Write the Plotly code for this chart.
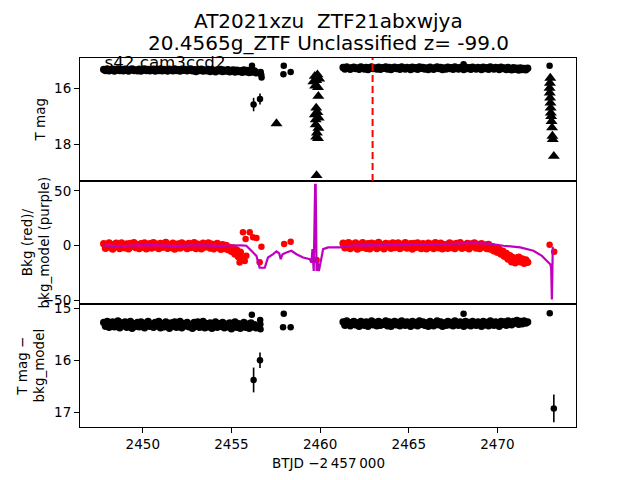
import plotly.graph_objects as go
from plotly.subplots import make_subplots

# ---------------- data ----------------
tA = [2447.8, 2447.9, 2448.0, 2448.1, 2448.2, 2448.3, 2448.4, 2448.5, 2448.6, 2448.7,
      2448.8, 2448.9, 2449.0, 2449.1, 2449.2, 2449.3, 2449.4, 2449.5, 2449.6, 2449.7,
      2449.8, 2449.9, 2450.0, 2450.1, 2450.2, 2450.3, 2450.4, 2450.5, 2450.6, 2450.7,
      2450.8, 2450.9, 2451.0, 2451.1, 2451.2, 2451.3, 2451.4, 2451.5, 2451.6, 2451.7,
      2451.8, 2451.9, 2452.0, 2452.1, 2452.2, 2452.3, 2452.4, 2452.5, 2452.6, 2452.7,
      2452.8, 2452.9, 2453.0, 2453.1, 2453.2, 2453.3, 2453.4, 2453.5, 2453.6, 2453.7,
      2453.8, 2453.9, 2454.0, 2454.1, 2454.2, 2454.3, 2454.4, 2454.5, 2454.6, 2454.7,
      2454.8, 2454.9, 2455.0, 2455.1, 2455.2, 2455.3, 2455.4, 2455.5, 2455.6, 2455.7,
      2455.8, 2455.9, 2456.0, 2456.1, 2456.2, 2456.3, 2456.4]
tB = [2461.3, 2461.4, 2461.5, 2461.6, 2461.7, 2461.8, 2461.9, 2462.0, 2462.1, 2462.2,
      2462.3, 2462.4, 2462.5, 2462.6, 2462.7, 2462.8, 2462.9, 2463.0, 2463.1, 2463.2,
      2463.3, 2463.4, 2463.5, 2463.6, 2463.7, 2463.8, 2463.9, 2464.0, 2464.1, 2464.2,
      2464.3, 2464.4, 2464.5, 2464.6, 2464.7, 2464.8, 2464.9, 2465.0, 2465.1, 2465.2,
      2465.3, 2465.4, 2465.5, 2465.6, 2465.7, 2465.8, 2465.9, 2466.0, 2466.1, 2466.2,
      2466.3, 2466.4, 2466.5, 2466.6, 2466.7, 2466.8, 2466.9, 2467.0, 2467.1, 2467.2,
      2467.3, 2467.4, 2467.5, 2467.6, 2467.7, 2467.8, 2467.9, 2468.0, 2468.1, 2468.2,
      2468.3, 2468.4, 2468.5, 2468.6, 2468.7, 2468.8, 2468.9, 2469.0, 2469.1, 2469.2,
      2469.3, 2469.4, 2469.5, 2469.6, 2469.7, 2469.8, 2469.9, 2470.0, 2470.1, 2470.2,
      2470.3, 2470.4, 2470.5, 2470.6, 2470.7, 2470.8, 2470.9, 2471.0, 2471.1, 2471.2,
      2471.3, 2471.4, 2471.5, 2471.6, 2471.7]
tA2 = [2447.8, 2447.9, 2448.0, 2448.1, 2448.2, 2448.3, 2448.4, 2448.5, 2448.6, 2448.7,
       2448.8, 2448.9, 2449.0, 2449.1, 2449.2, 2449.3, 2449.4, 2449.5, 2449.6, 2449.7,
       2449.8, 2449.9, 2450.0, 2450.1, 2450.2, 2450.3, 2450.4, 2450.5, 2450.6, 2450.7,
       2450.8, 2450.9, 2451.0, 2451.1, 2451.2, 2451.3, 2451.4, 2451.5, 2451.6, 2451.7,
       2451.8, 2451.9, 2452.0, 2452.1, 2452.2, 2452.3, 2452.4, 2452.5, 2452.6, 2452.7,
       2452.8, 2452.9, 2453.0, 2453.1, 2453.2, 2453.3, 2453.4, 2453.5, 2453.6, 2453.7,
       2453.8, 2453.9, 2454.0, 2454.1, 2454.2, 2454.3, 2454.4, 2454.5, 2454.6, 2454.7,
       2454.8, 2454.9, 2455.0, 2455.1, 2455.2, 2455.3, 2455.4, 2455.5]

# panel 1: T mag
magA = [15.31, 15.35, 15.29, 15.36, 15.32, 15.30, 15.37, 15.33, 15.29, 15.35,
        15.32, 15.36, 15.30, 15.34, 15.37, 15.31, 15.29, 15.35, 15.33, 15.36,
        15.30, 15.37, 15.32, 15.29, 15.35, 15.31, 15.36, 15.33, 15.30, 15.37,
        15.32, 15.35, 15.29, 15.36, 15.31, 15.34, 15.37, 15.30, 15.33, 15.36,
        15.29, 15.35, 15.32, 15.37, 15.30, 15.34, 15.31, 15.36, 15.33, 15.29,
        15.36, 15.32, 15.38, 15.31, 15.35, 15.30, 15.37, 15.33, 15.36, 15.31,
        15.38, 15.32, 15.35, 15.39, 15.33, 15.36, 15.31, 15.38, 15.34, 15.37,
        15.32, 15.39, 15.35, 15.33, 15.40, 15.34, 15.38, 15.36, 15.41, 15.33,
        15.39, 15.35, 15.42, 15.34, 15.40, 15.37, 15.43]
magB = [15.24, 15.29, 15.22, 15.27, 15.30, 15.25, 15.23, 15.28, 15.26, 15.30,
        15.22, 15.27, 15.29, 15.24, 15.31, 15.25, 15.22, 15.28, 15.26, 15.29,
        15.23, 15.30, 15.25, 15.27, 15.22, 15.29, 15.24, 15.31, 15.26, 15.23,
        15.28, 15.25, 15.30, 15.22, 15.27, 15.29, 15.24, 15.26, 15.31, 15.23,
        15.28, 15.25, 15.30, 15.22, 15.27, 15.24, 15.29, 15.26, 15.31, 15.23,
        15.27, 15.30, 15.25, 15.22, 15.28, 15.24, 15.31, 15.26, 15.29, 15.23,
        15.28, 15.25, 15.30, 15.22, 15.27, 15.29, 15.24, 15.26, 15.31, 15.23,
        15.28, 15.25, 15.30, 15.23, 15.27, 15.29, 15.24, 15.26, 15.31, 15.23,
        15.28, 15.25, 15.30, 15.22, 15.27, 15.29, 15.24, 15.26, 15.31, 15.23,
        15.28, 15.26, 15.31, 15.24, 15.29, 15.32, 15.25, 15.30, 15.27, 15.33,
        15.26, 15.31, 15.28, 15.32, 15.27]
out1_t = [2456.16, 2456.25, 2456.61, 2456.65, 2456.68, 2456.70, 2457.95, 2457.93, 2458.34, 2468.09, 2472.94]
out1_m = [15.18, 16.57, 16.37, 15.40, 15.50, 15.60, 15.18, 15.48, 15.40, 15.12, 15.18]
out1_e = [0.03, 0.24, 0.20, 0.03, 0.03, 0.03, 0.03, 0.03, 0.03, 0.02, 0.03]
lim_t = [2457.54, 2459.70, 2459.85, 2459.62, 2459.78, 2459.95, 2459.72, 2459.88, 2459.90, 2459.78,
         2459.70, 2459.85, 2459.75, 2459.92, 2459.75, 2459.90, 2459.82, 2459.78, 2459.88, 2459.80,
         2472.98, 2472.96, 2472.94, 2472.95, 2472.97, 2472.99, 2473.00, 2473.01, 2473.03, 2473.05,
         2473.08, 2473.10, 2473.12, 2473.18]
lim_m = [17.25, 15.55, 15.50, 15.75, 15.70, 15.65, 15.90, 15.95, 16.27, 16.69,
         16.93, 16.85, 17.11, 17.05, 17.29, 17.41, 17.58, 17.73, 17.78, 19.11,
         15.62, 15.80, 15.98, 16.15, 16.33, 16.51, 16.69, 16.87, 16.99, 17.17,
         17.40, 17.70, 17.82, 18.42]
t_peak = 2462.96

# panel 2: background (red) and background model (purple)
bkgA = [1.8, -2.2, 0.6, 2.6, -1.4, -2.9, 1.2, 2.2, -0.8, -2.5,
        2.4, 0.3, -1.9, 1.5, -2.7, 2.0, -0.5, 2.8, -1.6, 0.9,
        -2.4, 1.9, -1.1, 2.5, -2.8, 0.4, 1.7, -2.0, 2.7, -0.9,
        1.3, -2.6, 2.1, -1.3, 0.7, 2.9, -2.3, 1.0, -1.7, 2.3,
        -2.9, 0.2, 1.6, -2.1, 2.6, -0.6, 1.1, -2.6, 2.0, -1.5,
        0.8, 2.7, -2.4, 1.4, -0.3, -2.8, 2.2, -1.2, 0.5, 2.4,
        -2.0, 1.3, -2.7, 0.7, 2.1, -1.6, -3.2, 1.0, -2.4, 0.3,
        -3.5, -1.5, -5.0, -2.0, -7.5, -4.0, -10.0, -6.0]
bkgB = [2.2, -1.8, 0.9, 2.7, -2.4, 1.4, -0.7, 2.5, -2.9, 1.1,
        -1.5, 2.8, 0.4, -2.2, 1.9, -2.7, 2.3, -0.9, 1.6, -2.5,
        2.9, -1.2, 0.6, -2.8, 2.1, -0.4, 1.5, -2.3, 2.6, -1.7,
        0.8, 2.4, -2.6, 1.2, -1.0, 2.7, -2.1, 0.3, 1.8, -2.9,
        2.0, -1.4, 2.6, -0.6, -2.4, 1.7, 0.9, -2.7, 2.3, -1.1,
        1.4, -2.5, 2.8, -0.2, -1.9, 2.2, -2.8, 1.0, 0.5, -2.3,
        2.5, -1.6, 1.3, -2.6, 2.0, -0.8, 2.7, -2.2, 0.7, -1.3,
        2.1, -2.8, 1.6, -0.5, 2.4, -2.0, 1.1, -2.6, 1.9, -1.0,
        0.6, -2.5, 1.2, -3.0, -1.0, -4.5, -2.5, -6.0, -3.5, -7.5,
        -5.0, -9.5, -7.0, -12.0, -9.0, -14.5, -11.0, -15.5, -12.5, -10.5,
        -14.5, -12.0, -16.0, -13.0, -15.0]
bkg_out_t = [2455.46, 2455.55, 2455.65, 2455.75, 2455.80, 2455.84, 2456.03, 2456.22, 2456.41,
             2456.59, 2456.69, 2457.97, 2458.34, 2459.80, 2472.94, 2473.20]
bkg_out_v = [-15.3, -10.5, 12.3, -13.8, 6.1, -9.2, 12.3, 7.7, 7.1,
             -15.0, -0.9, 1.5, 3.7, -13.0, 0.9, -5.5]
model_t = [2447.8, 2448.4, 2449.0, 2449.7, 2450.5, 2451.2, 2452.0, 2452.7, 2453.5, 2454.2,
           2455.0, 2455.55, 2455.84, 2456.12, 2456.41,
           2456.59, 2456.88, 2457.06, 2457.35, 2457.54, 2457.69, 2457.78, 2457.88, 2458.10, 2458.38,
           2458.67, 2459.04, 2459.42, 2459.51, 2459.57, 2459.64, 2459.72, 2459.75, 2459.80, 2459.85,
           2459.93, 2460.08, 2460.17, 2460.45, 2461.11, 2461.8, 2462.5, 2463.2, 2464.0, 2464.8,
           2465.5, 2466.2, 2467.0, 2467.7, 2468.45,
           2469.5, 2470.34, 2471.28, 2472.03, 2472.51, 2472.79, 2472.98, 2473.03, 2473.07, 2473.12,
           2473.18]
model_v = [0.3, -0.2, 0.0, 0.4, 0.5, 0.1, -0.2, 0.3, 0.4, -0.1,
           0.2, 0.3, 0.0, -4.6, -9.2,
           -20.0, -20.0, -10.7, -7.7, -5.2, -6.8, -12.3, -7.7, -6.1, -4.6,
           -7.7, -10.7, -12.3, -15.3, -3.1, -23.0, 55.5, 55.5, -23.0, -13.8,
           -23.0, -10.7, -3.1, -1.5, -1.5, 0.2, 0.5, 0.3, 0.8, 0.6,
           1.2, 1.0, 1.8, 2.0, 2.5,
           2.0, 0.0, -1.5, -4.6, -9.2, -13.8, -16.9, -20.0, -49.0, -2.0,
           -2.0]

# panel 3: T mag - bkg_model
mag3A = [15.27, 15.34, 15.25, 15.36, 15.29, 15.26, 15.35, 15.31, 15.24, 15.37,
         15.28, 15.33, 15.26, 15.36, 15.30, 15.25, 15.38, 15.29, 15.34, 15.27,
         15.35, 15.26, 15.32, 15.37, 15.28, 15.25, 15.34, 15.30, 15.36, 15.27,
         15.33, 15.25, 15.37, 15.29, 15.35, 15.26, 15.31, 15.38, 15.28, 15.34,
         15.26, 15.36, 15.30, 15.25, 15.37, 15.29, 15.33, 15.27, 15.35, 15.31,
         15.38, 15.27, 15.34, 15.26, 15.36, 15.30, 15.25, 15.37, 15.29, 15.35,
         15.28, 15.38, 15.31, 15.26, 15.36, 15.29, 15.34, 15.27, 15.37, 15.30,
         15.35, 15.28, 15.39, 15.31, 15.26, 15.36, 15.29, 15.38, 15.33, 15.27,
         15.36, 15.30, 15.38, 15.28, 15.35, 15.31, 15.37]
mag3B = [15.26, 15.32, 15.24, 15.30, 15.33, 15.27, 15.25, 15.31, 15.28, 15.34,
         15.25, 15.30, 15.32, 15.26, 15.34, 15.28, 15.24, 15.31, 15.27, 15.33,
         15.25, 15.32, 15.28, 15.30, 15.24, 15.33, 15.26, 15.34, 15.29, 15.25,
         15.31, 15.27, 15.33, 15.24, 15.30, 15.32, 15.26, 15.28, 15.34, 15.25,
         15.31, 15.27, 15.33, 15.24, 15.30, 15.26, 15.32, 15.28, 15.34, 15.25,
         15.30, 15.33, 15.27, 15.24, 15.31, 15.26, 15.34, 15.28, 15.32, 15.25,
         15.31, 15.27, 15.33, 15.24, 15.30, 15.32, 15.26, 15.28, 15.34, 15.25,
         15.31, 15.27, 15.33, 15.25, 15.30, 15.32, 15.26, 15.28, 15.34, 15.25,
         15.31, 15.27, 15.33, 15.24, 15.30, 15.32, 15.26, 15.28, 15.34, 15.25,
         15.30, 15.26, 15.32, 15.24, 15.29, 15.31, 15.25, 15.28, 15.23, 15.30,
         15.25, 15.29, 15.24, 15.28, 15.26]
out3_t = [2456.15, 2456.61, 2456.25, 2456.62, 2456.63, 2456.64, 2457.95, 2457.91, 2458.34, 2468.09, 2472.95, 2473.18]
out3_m = [15.12, 16.00, 16.38, 15.22, 15.30, 15.40, 15.10, 15.36, 15.36, 15.10, 15.09, 16.93]
out3_e = [0.02, 0.15, 0.24, 0.02, 0.02, 0.02, 0.02, 0.02, 0.02, 0.02, 0.03, 0.27]

title1 = "AT2021xzu  ZTF21abxwjya"
title2 = "20.4565g_ZTF Unclassified z= -99.0"
sector_text = "s42 cam3ccd2"

# ---------------- figure ----------------
FONT = "DejaVu Sans"
BLACK = "#000000"
RED = "#FF0000"
MAG = "#BF00BF"
BAND = 7.5

fig = make_subplots(rows=3, cols=1, shared_xaxes=True, vertical_spacing=0)

# panel 1
fig.add_trace(go.Scatter(x=[2447.84], y=[15.11], mode="text", text=[sector_text],
                         textposition="middle right", cliponaxis=False,
                         textfont=dict(family=FONT, size=16.7, color=BLACK),
                         showlegend=False, hoverinfo="skip"), row=1, col=1)
for tt, mm in ((tA, magA), (tB, magB)):
    fig.add_trace(go.Scatter(x=tt, y=mm, mode="markers",
                             marker=dict(color=BLACK, size=BAND, line=dict(width=0)),
                             showlegend=False), row=1, col=1)
fig.add_trace(go.Scatter(x=out1_t, y=out1_m, mode="markers",
                         marker=dict(color=BLACK, size=6.5, line=dict(width=0)),
                         error_y=dict(type="data", array=out1_e, width=0, thickness=1.6, color=BLACK),
                         showlegend=False), row=1, col=1)
fig.add_trace(go.Scatter(x=lim_t, y=lim_m, mode="markers",
                         marker=dict(color=BLACK, size=10.5, symbol="triangle-up", line=dict(width=0)),
                         showlegend=False), row=1, col=1)

# panel 2
for tt, bb in ((tA2, bkgA), (tB, bkgB)):
    fig.add_trace(go.Scatter(x=tt, y=bb, mode="markers",
                             marker=dict(color=RED, size=BAND, line=dict(width=0)),
                             showlegend=False), row=2, col=1)
fig.add_trace(go.Scatter(x=bkg_out_t, y=bkg_out_v, mode="markers",
                         marker=dict(color=RED, size=6.5, line=dict(width=0)),
                         showlegend=False), row=2, col=1)
# model line on an overlaying axis so that it is drawn above the red points
fig.add_trace(go.Scatter(x=model_t, y=model_v, mode="lines", xaxis="x2", yaxis="y4",
                         line=dict(color=MAG, width=2.2, simplify=False),
                         showlegend=False))

# panel 3
for tt, mm in ((tA, mag3A), (tB, mag3B)):
    fig.add_trace(go.Scatter(x=tt, y=mm, mode="markers",
                             marker=dict(color=BLACK, size=BAND, line=dict(width=0)),
                             showlegend=False), row=3, col=1)
fig.add_trace(go.Scatter(x=out3_t, y=out3_m, mode="markers",
                         marker=dict(color=BLACK, size=6.5, line=dict(width=0)),
                         error_y=dict(type="data", array=out3_e, width=0, thickness=1.6, color=BLACK),
                         showlegend=False), row=3, col=1)

# red dashed line in panel 1
fig.add_shape(type="line", x0=t_peak, x1=t_peak, xref="x", y0=0, y1=1, yref="y domain",
              line=dict(color=RED, width=2, dash="7px,4px"), layer="above")

axis_common = dict(showline=True, linecolor=BLACK, linewidth=1.1, mirror=True,
                   showgrid=False, zeroline=False,
                   tickfont=dict(family=FONT, size=13.5, color=BLACK),
                   ticks="outside", ticklen=5, tickwidth=1.1, tickcolor=BLACK)

xr = [2446.46, 2474.43]
bkg_range = [-53.0, 58.9]
fig.update_xaxes(**axis_common, range=xr, dtick=5, tick0=2450)
fig.update_xaxes(showticklabels=False, ticks="", row=1, col=1)
fig.update_xaxes(showticklabels=False, ticks="", row=2, col=1)
fig.update_yaxes(**axis_common)
fig.update_yaxes(range=[19.31, 14.90], dtick=2, tick0=0, row=1, col=1)
fig.update_yaxes(range=bkg_range, dtick=50, tick0=0, row=2, col=1)
fig.update_yaxes(range=[17.29, 14.91], dtick=1, tick0=0, row=3, col=1)
fig.update_layout(yaxis4=dict(overlaying="y2", anchor="x2", range=bkg_range, visible=False,
                              showgrid=False, zeroline=False))

W = 496.0
H = 369.0
def px_to_paper_x(px):
    return (px - 80.0) / W

def py_to_paper_y(py):
    return (427.0 - py) / H

annotations = [
    dict(text=title1, xref="paper", yref="paper", x=0.5, y=py_to_paper_y(21),
         xanchor="center", yanchor="middle", showarrow=False,
         font=dict(family=FONT, size=20, color=BLACK)),
    dict(text=title2, xref="paper", yref="paper", x=0.5, y=py_to_paper_y(43),
         xanchor="center", yanchor="middle", showarrow=False,
         font=dict(family=FONT, size=20, color=BLACK)),
    dict(text="T mag", xref="paper", yref="paper", x=px_to_paper_x(40), y=5 / 6,
         xanchor="center", yanchor="middle", textangle=-90, showarrow=False,
         font=dict(family=FONT, size=13.5, color=BLACK)),
    dict(text="Bkg (red)/<br>bkg_model (purple)", xref="paper", yref="paper",
         x=px_to_paper_x(35), y=0.5, xanchor="center", yanchor="middle", textangle=-90,
         showarrow=False, font=dict(family=FONT, size=13.5, color=BLACK)),
    dict(text="T mag \u2212<br>bkg_model", xref="paper", yref="paper",
         x=px_to_paper_x(30), y=1 / 6, xanchor="center", yanchor="middle", textangle=-90,
         showarrow=False, font=dict(family=FONT, size=13.5, color=BLACK)),
    dict(text="BTJD \u22122\u2009457\u2009000", xref="paper", yref="paper",
         x=0.5, y=py_to_paper_y(463), xanchor="center", yanchor="middle",
         showarrow=False, font=dict(family=FONT, size=13.5, color=BLACK)),
]

fig.update_layout(width=640, height=480,
                  margin=dict(l=80, r=64, t=58, b=53, pad=0),
                  paper_bgcolor="white", plot_bgcolor="white",
                  showlegend=False, annotations=annotations,
                  font=dict(family=FONT, color=BLACK))

fig.write_html("out.html", config={"displayModeBar": False},
               post_script="document.body.style.margin='0';")
